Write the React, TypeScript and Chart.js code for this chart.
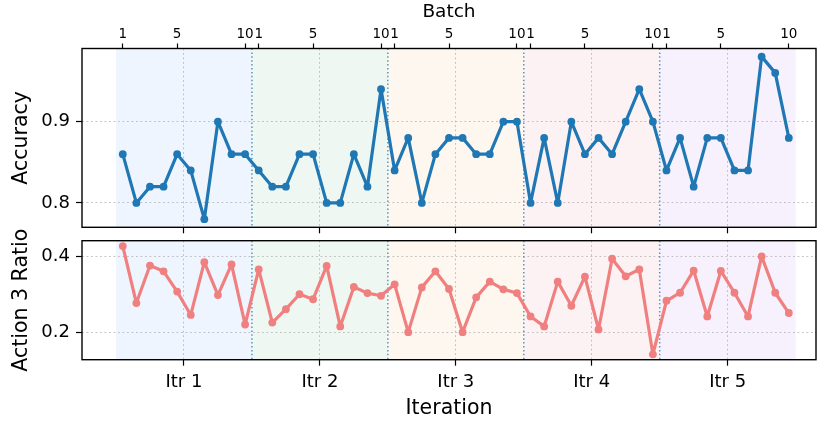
import React, { useEffect, useRef } from 'react';
import { Chart, registerables } from 'chart.js';

Chart.register(...registerables);

// ---------------- data ----------------
const iterationLabels = ['Itr 1', 'Itr 2', 'Itr 3', 'Itr 4', 'Itr 5'];
const batchesPerIteration = 10;
const batchTickLabels = [1, 5, 10];

const accuracy = [
  0.86, 0.80, 0.82, 0.82, 0.86, 0.84, 0.78, 0.90, 0.86, 0.86,
  0.84, 0.82, 0.82, 0.86, 0.86, 0.80, 0.80, 0.86, 0.82, 0.94,
  0.84, 0.88, 0.80, 0.86, 0.88, 0.88, 0.86, 0.86, 0.90, 0.90,
  0.80, 0.88, 0.80, 0.90, 0.86, 0.88, 0.86, 0.90, 0.94, 0.90,
  0.84, 0.88, 0.82, 0.88, 0.88, 0.84, 0.84, 0.98, 0.96, 0.88,
];

const action3Ratio = [
  0.426, 0.277, 0.375, 0.360, 0.307, 0.246, 0.384, 0.298, 0.378, 0.221,
  0.365, 0.226, 0.261, 0.300, 0.287, 0.374, 0.216, 0.319, 0.303, 0.296,
  0.326, 0.201, 0.318, 0.360, 0.314, 0.201, 0.292, 0.333, 0.313, 0.303,
  0.242, 0.216, 0.333, 0.270, 0.346, 0.208, 0.393, 0.347, 0.365, 0.143,
  0.283, 0.304, 0.362, 0.242, 0.361, 0.304, 0.242, 0.399, 0.304, 0.251,
];

const accuracyTicks = [0.8, 0.9];
const ratioTicks = [0.2, 0.4];

// ---------------- styles ----------------
const iterationBandColors = ['#eff5fe', '#eff7f2', '#fef7ef', '#fcf2f3', '#f6f1fc'];
const FONT = 'DejaVu Sans';
const GRID_COLOR = 'rgba(170,170,170,0.7)';
const GRID_DASH = [1.8, 2.7];
const X_MIN = -3;
const X_MAX = 51;

const totalPoints = iterationLabels.length * batchesPerIteration;
const iterCenters = iterationLabels.map((_, k) => k * batchesPerIteration + (batchesPerIteration - 1) / 2);
const batchTickValues: number[] = [];
iterationLabels.forEach((_, k) => {
  batchTickLabels.forEach((b) => batchTickValues.push(k * batchesPerIteration + b - 1));
});

const bandsPlugin = {
  id: 'iterBands',
  beforeDraw(chart: any) {
    const { ctx, chartArea, scales } = chart;
    const x = scales.x;
    ctx.save();
    iterationLabels.forEach((_, k) => {
      const x0 = x.getPixelForValue(k * batchesPerIteration - 0.5);
      const x1 = x.getPixelForValue((k + 1) * batchesPerIteration - 0.5);
      ctx.fillStyle = iterationBandColors[k];
      ctx.fillRect(x0, chartArea.top, x1 - x0, chartArea.bottom - chartArea.top);
    });
    ctx.restore();
  },
  beforeDatasetsDraw(chart: any) {
    const { ctx, chartArea, scales } = chart;
    const x = scales.x;
    ctx.save();
    ctx.strokeStyle = 'rgba(31,119,180,0.75)';
    ctx.lineWidth = 1.5;
    ctx.setLineDash([1.5, 2.4]);
    for (let k = 1; k < iterationLabels.length; k++) {
      const px = x.getPixelForValue(k * batchesPerIteration - 0.5);
      ctx.beginPath();
      ctx.moveTo(px, chartArea.top);
      ctx.lineTo(px, chartArea.bottom);
      ctx.stroke();
    }
    ctx.restore();
  },
  afterDraw(chart: any) {
    const { ctx, chartArea } = chart;
    ctx.save();
    ctx.strokeStyle = '#000';
    ctx.lineWidth = 1.4;
    ctx.strokeRect(chartArea.left, chartArea.top, chartArea.right - chartArea.left, chartArea.bottom - chartArea.top);
    ctx.restore();
  },
};

function zeroPad(scale: any) {
  scale.paddingLeft = 0;
  scale.paddingRight = 0;
  scale.paddingTop = 0;
  scale.paddingBottom = 0;
}

function makeYScale(ticksArr: number[], title: string, min: number, max: number) {
  return {
    type: 'linear',
    position: 'left',
    min,
    max,
    afterBuildTicks: (s: any) => {
      s.ticks = ticksArr.map((v) => ({ value: v }));
    },
    afterFit: (s: any) => {
      s.width = 82;
      zeroPad(s);
    },
    ticks: {
      callback: (v: any) => Number(v).toFixed(1),
      font: { family: FONT, size: 18 },
      color: '#000',
      padding: 6,
    },
    grid: {
      color: GRID_COLOR,
      lineWidth: 1,
      tickColor: '#000',
      tickLength: 6,
      tickWidth: 1.2,
      drawTicks: true,
    },
    border: { display: false, dash: GRID_DASH },
    title: {
      display: true,
      text: title,
      font: { family: FONT, size: 20.5 },
      color: '#000',
      padding: { top: 9, bottom: 0 },
    },
  };
}

function makeBottomX(showLabels: boolean, height: number) {
  return {
    type: 'linear',
    position: 'bottom',
    min: X_MIN,
    max: X_MAX,
    afterBuildTicks: (s: any) => {
      s.ticks = iterCenters.map((v) => ({ value: v }));
    },
    afterFit: (s: any) => {
      s.height = height;
      zeroPad(s);
    },
    ticks: {
      display: showLabels,
      autoSkip: false,
      maxRotation: 0,
      minRotation: 0,
      callback: (v: any) => iterationLabels[iterCenters.indexOf(Number(v))] ?? '',
      font: { family: FONT, size: 18 },
      color: '#000',
      padding: 6,
    },
    grid: {
      color: GRID_COLOR,
      lineWidth: 1,
      tickColor: '#000',
      tickLength: 6,
      tickWidth: 1.2,
      drawTicks: true,
    },
    border: { display: false, dash: GRID_DASH },
    title: showLabels
      ? {
          display: true,
          text: 'Iteration',
          font: { family: FONT, size: 20.5 },
          color: '#000',
          padding: { top: 0, bottom: 2 },
        }
      : { display: false },
  };
}

function lineDataset(values: number[], color: string) {
  return {
    data: values.map((v, i) => ({ x: i, y: v })),
    borderColor: color,
    backgroundColor: color,
    borderWidth: 3.2,
    borderJoinStyle: 'round',
    borderCapStyle: 'round',
    pointRadius: 3.9,
    pointBorderWidth: 0,
    pointBackgroundColor: color,
    tension: 0,
    fill: false,
  };
}

export default function App() {
  const topRef = useRef<HTMLCanvasElement | null>(null);
  const botRef = useRef<HTMLCanvasElement | null>(null);

  useEffect(() => {
    const TOP_H = 236;
    const BOT_TOP = 216;
    const BOT_H = 423 - BOT_TOP;

    const top = new Chart(topRef.current as HTMLCanvasElement, {
      type: 'line',
      data: { datasets: [lineDataset(accuracy.slice(0, totalPoints), '#1f77b4')] as any },
      options: {
        responsive: false,
        animation: false,
        devicePixelRatio: 1,
        layout: { padding: { top: 0, right: 3.5, left: 0, bottom: 0 } },
        plugins: { legend: { display: false }, tooltip: { enabled: false } },
        scales: {
          x: makeBottomX(false, TOP_H - 227.3) as any,
          xTop: {
            type: 'linear',
            position: 'top',
            min: X_MIN,
            max: X_MAX,
            afterBuildTicks: (s: any) => {
              s.ticks = batchTickValues.map((v) => ({ value: v }));
            },
            afterFit: (s: any) => {
              s.height = 48.5;
              zeroPad(s);
            },
            ticks: {
              autoSkip: false,
              maxRotation: 0,
              minRotation: 0,
              callback: (v: any) => String((Number(v) % batchesPerIteration) + 1),
              font: { family: FONT, size: 13.5 },
              color: '#000',
              padding: 1,
            },
            grid: {
              drawOnChartArea: false,
              tickColor: '#000',
              tickLength: 5,
              tickWidth: 1.2,
            },
            border: { display: false },
            title: {
              display: true,
              text: 'Batch',
              font: { family: FONT, size: 18.5 },
              color: '#000',
              padding: { top: 1, bottom: 0 },
            },
          } as any,
          y: makeYScale(accuracyTicks, 'Accuracy', 0.77, 0.99) as any,
        },
      },
      plugins: [bandsPlugin],
    });

    const bot = new Chart(botRef.current as HTMLCanvasElement, {
      type: 'line',
      data: { datasets: [lineDataset(action3Ratio.slice(0, totalPoints), '#f08080')] as any },
      options: {
        responsive: false,
        animation: false,
        devicePixelRatio: 1,
        layout: { padding: { top: 240.7 - BOT_TOP, right: 3.5, left: 0, bottom: 0 } },
        plugins: { legend: { display: false }, tooltip: { enabled: false } },
        scales: {
          x: makeBottomX(true, BOT_H - (359.7 - BOT_TOP)) as any,
          y: makeYScale(ratioTicks, 'Action 3 Ratio', 0.129, 0.44) as any,
        },
      },
      plugins: [bandsPlugin],
    });

    return () => {
      top.destroy();
      bot.destroy();
    };
  }, []);

  return (
    <div style={{ position: 'relative', width: 820, height: 423, background: '#fff' }}>
      <style>{'body{margin:0}'}</style>
      <canvas
        ref={botRef}
        width={820}
        height={207}
        style={{ position: 'absolute', left: 0, top: 216, width: 820, height: 207 }}
      />
      <canvas
        ref={topRef}
        width={820}
        height={236}
        style={{ position: 'absolute', left: 0, top: 0, width: 820, height: 236 }}
      />
    </div>
  );
}
